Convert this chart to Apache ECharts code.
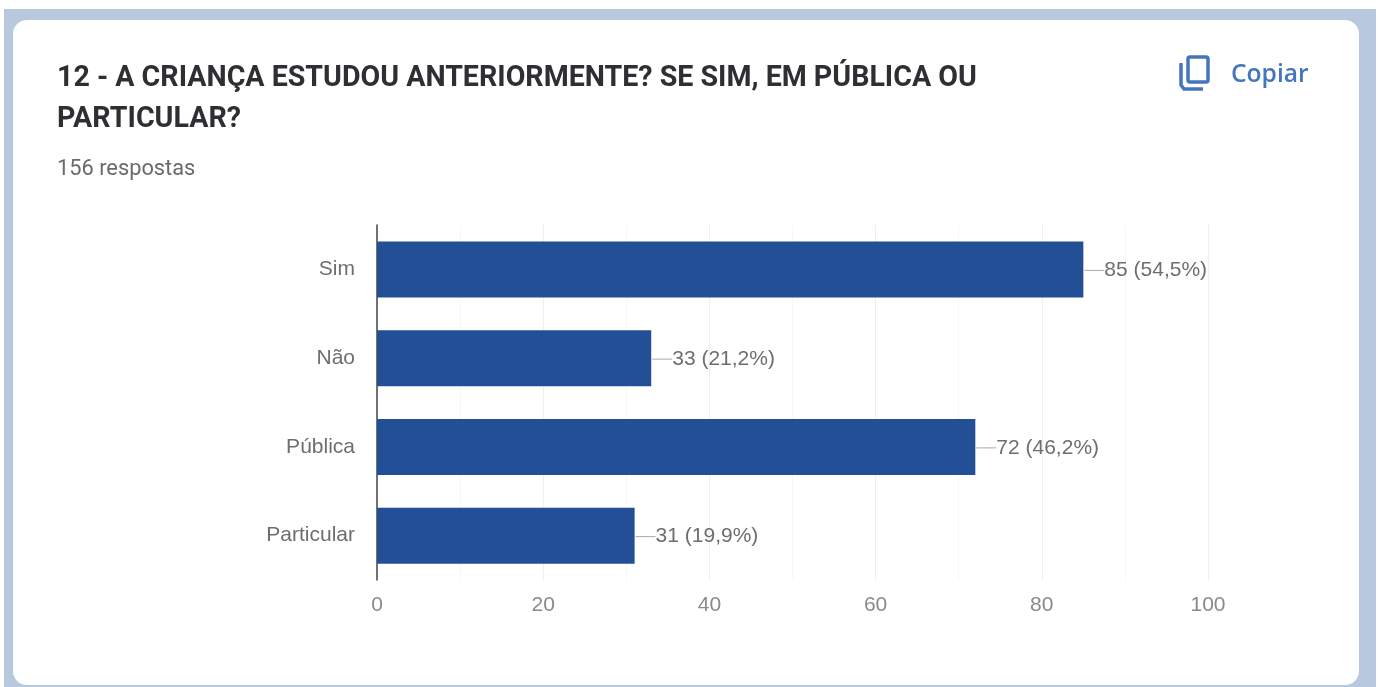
<!DOCTYPE html>
<html>
<head>
<meta charset="utf-8">
<style>
  html, body { margin: 0; padding: 0; background: #ffffff; }
  #chart { width: 1382px; height: 687px; }
</style>
</head>
<body>
<div id="chart"></div>
<script src="https://cdn.jsdelivr.net/npm/echarts@6/dist/echarts.min.js"></script>
<script>
// Survey responses to question 12
const categories = ['Sim', 'Não', 'Pública', 'Particular'];
const responseCounts = [85, 33, 72, 31];
const responseShares = ['54,5%', '21,2%', '46,2%', '19,9%'];
const countTicks = [0, 20, 40, 60, 80, 100];
const titleLines = ['12 - A CRIANÇA ESTUDOU ANTERIORMENTE? SE SIM, EM PÚBLICA OU', 'PARTICULAR?'];
const subtitle = '156 respostas';
const copyLabel = 'Copiar';

const chart = echarts.init(document.getElementById('chart'), null, { renderer: 'canvas' });

const iconColor = '#4476bd';
const labelFont = 'Liberation Sans';
const labelSize = 21;

chart.setOption({
  animation: false,
  backgroundColor: '#ffffff',
  grid: { left: 377, right: 174, top: 225, bottom: 107 },
  xAxis: {
    type: 'value',
    min: countTicks[0],
    max: countTicks[countTicks.length - 1],
    interval: 20,
    axisLine: { show: false },
    axisTick: { show: false },
    axisLabel: { color: '#8a8a8a', fontFamily: labelFont, fontSize: labelSize, margin: 15 },
    splitLine: { show: true, lineStyle: { color: '#efefef', width: 1 } },
    minorTick: { show: false, splitNumber: 2 },
    minorSplitLine: { show: true, lineStyle: { color: '#f7f7f7', width: 1 } }
  },
  yAxis: {
    type: 'category',
    inverse: true,
    data: categories,
    axisLine: { show: true, lineStyle: { color: '#444444', width: 1.5 } },
    axisTick: { show: false },
    axisLabel: { color: '#6e6e6e', fontFamily: labelFont, fontSize: labelSize, margin: 22, padding: [3, 0, 0, 0] }
  },
  series: [{
    type: 'bar',
    data: responseCounts,
    barWidth: 56,
    itemStyle: { color: '#224f96' },
    label: {
      show: true,
      position: 'right',
      distance: 1,
      offset: [0, 1],
      formatter: (p) => `{lead|}{val|${p.value} (${responseShares[p.dataIndex]})}`,
      rich: {
        lead: { width: 20, height: 1, backgroundColor: '#a8a8a8' },
        val: { color: '#6e6e6e', fontFamily: labelFont, fontSize: labelSize }
      }
    }
  }],
  graphic: {
    elements: [
      // Page backdrop and the white card, kept behind the plot
      { type: 'rect', z: -10, silent: true, shape: { x: 4, y: 9, width: 1372, height: 678 }, style: { fill: '#b8c9de' } },
      { type: 'rect', z: -9, silent: true, shape: { x: 13, y: 20, width: 1346, height: 665, r: 14 }, style: { fill: '#ffffff' } },
      // Heading
      { type: 'text', x: 57, y: 64, style: { text: titleLines[0], fill: '#2f2f33', font: 'bold 28.6px Roboto' } },
      { type: 'text', x: 57, y: 105, style: { text: titleLines[1], fill: '#2f2f33', font: 'bold 28.6px Roboto' } },
      { type: 'text', x: 57, y: 159, style: { text: subtitle, fill: '#6a6a6a', font: '21.8px Roboto' } },
      // Copy button: two overlapping outlined sheets and its caption
      { type: 'rect', shape: { x: 1188, y: 57, width: 20, height: 25, r: 2 }, style: { fill: 'none', stroke: iconColor, lineWidth: 3.5 } },
      { type: 'polyline', shape: { points: [[1181, 63], [1181, 85], [1184, 89], [1203, 89]] }, style: { fill: 'none', stroke: iconColor, lineWidth: 3.5 } },
      { type: 'text', x: 1231, y: 62, style: { text: copyLabel, fill: iconColor, font: '600 24.6px "Open Sans"' } }
    ]
  }
});
</script>
</body>
</html>
